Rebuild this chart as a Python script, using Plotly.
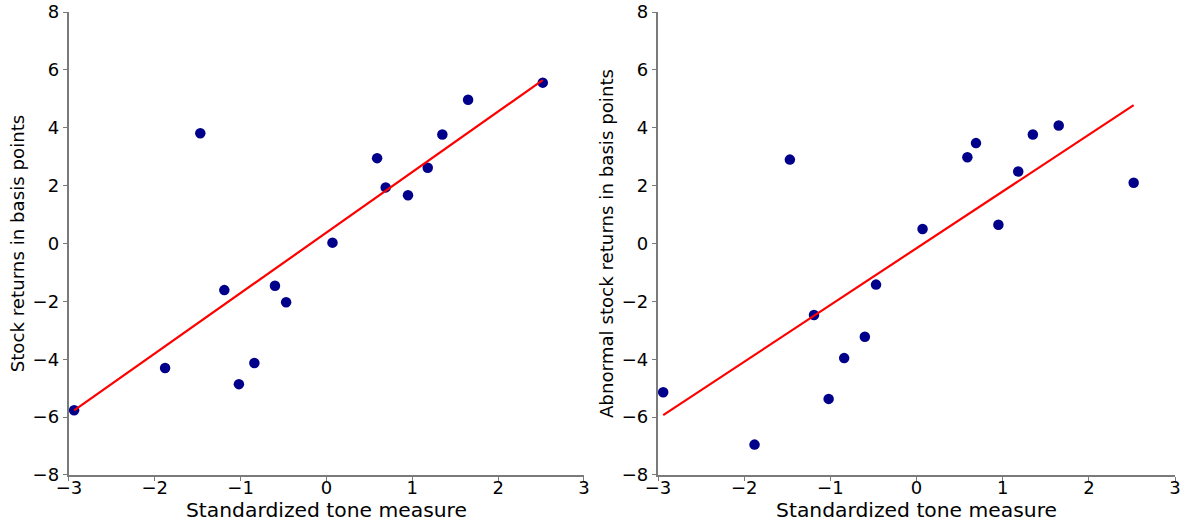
import plotly.graph_objects as go
from plotly.subplots import make_subplots

# Data
tone = [-2.94, -1.88, -1.47, -1.19, -1.02, -0.84, -0.60, -0.47,
        0.07, 0.59, 0.69, 0.95, 1.18, 1.35, 1.65, 2.52]
stock_returns = [-5.76, -4.30, 3.81, -1.61, -4.86, -4.13, -1.46, -2.03,
                 0.03, 2.95, 1.94, 1.67, 2.62, 3.77, 4.97, 5.56]
abnormal_returns = [-5.14, -6.95, 2.90, -2.47, -5.37, -3.96, -3.22, -1.42,
                    0.50, 2.98, 3.47, 0.65, 2.49, 3.77, 4.08, 2.10]

fit_x = [-2.94, 2.52]
fit_stock = [-5.77, 5.65]
fit_abnormal = [-5.93, 4.78]

x_ticks = [-3, -2, -1, 0, 1, 2, 3]
y_ticks = [-8, -6, -4, -2, 0, 2, 4, 6, 8]
x_label = "Standardized tone measure"
y_label_left = "Stock returns in basis points"
y_label_right = "Abnormal stock returns in basis points"

fig = make_subplots(rows=1, cols=2)

marker = dict(color="#00008b", size=10.5)
line = dict(color="#ff0000", width=2.2)

fig.add_trace(go.Scatter(x=tone, y=stock_returns, mode="markers", marker=marker), row=1, col=1)
fig.add_trace(go.Scatter(x=fit_x, y=fit_stock, mode="lines", line=line), row=1, col=1)
fig.add_trace(go.Scatter(x=tone, y=abnormal_returns, mode="markers", marker=marker), row=1, col=2)
fig.add_trace(go.Scatter(x=fit_x, y=fit_abnormal, mode="lines", line=line), row=1, col=2)

tick_font = dict(family="DejaVu Sans", size=18, color="black")
xtitle_font = dict(family="DejaVu Sans", size=20.3, color="black")
ytitle_font = dict(family="DejaVu Sans", size=18.2, color="black")
axis_common = dict(showline=True, linecolor="#7a7a7a", linewidth=1.5, showgrid=False,
                   zeroline=False, ticks="outside", ticklen=4.5, tickwidth=1.2,
                   tickcolor="#7a7a7a", tickfont=tick_font, mirror=False, automargin=False)

fig.update_xaxes(range=[-3, 3], tickvals=x_ticks, ticklabelstandoff=-9,
                 title=dict(text=x_label, font=xtitle_font, standoff=0), **axis_common)
fig.update_yaxes(range=[-8, 8], tickvals=y_ticks, **axis_common)
fig.update_yaxes(title=dict(text=y_label_left, font=ytitle_font, standoff=3), row=1, col=1)
fig.update_yaxes(title=dict(text=y_label_right, font=ytitle_font, standoff=3), row=1, col=2)

fig.update_layout(
    width=1185, height=523,
    margin=dict(l=0, r=0, t=0, b=0),
    paper_bgcolor="white", plot_bgcolor="white",
    showlegend=False,
    font=tick_font,
    xaxis=dict(domain=[0.0582, 0.4928]),
    xaxis2=dict(domain=[0.5553, 0.9916]),
    yaxis=dict(domain=[0.0918, 0.977]),
    yaxis2=dict(domain=[0.0918, 0.977]),
)

fig.write_html("out.html")
